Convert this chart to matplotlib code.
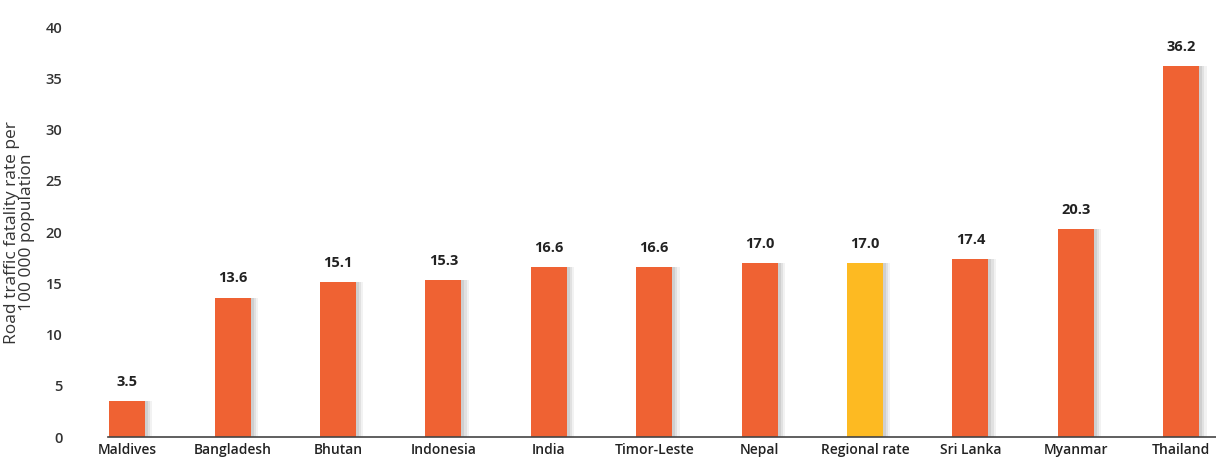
import numpy as np
import matplotlib.pyplot as plt

# ---------------- DATA ----------------
countries = ["Maldives", "Bangladesh", "Bhutan", "Indonesia", "India", "Timor-Leste",
             "Nepal", "Regional rate", "Sri Lanka", "Myanmar", "Thailand"]
rates = [3.5, 13.6, 15.1, 15.3, 16.6, 16.6, 17.0, 17.0, 17.4, 20.3, 36.2]
value_labels = ["3.5", "13.6", "15.1", "15.3", "16.6", "16.6", "17.0", "17.0", "17.4", "20.3", "36.2"]
highlight = "Regional rate"

ORANGE = "#EF6233"
YELLOW = "#FDBA22"

plt.rcParams['font.family'] = ['Open Sans', 'DejaVu Sans']

fig = plt.figure(figsize=(12.16, 4.69), dpi=100)
ax = fig.add_axes([0.089, 0.068, 0.911, 0.874])

x = np.arange(len(countries))
colors = [YELLOW if c == highlight else ORANGE for c in countries]
width = 0.34

# soft shadow on the right side of each bar
for k, a in [(0.07, 0.10), (0.05, 0.14), (0.03, 0.18)]:
    ax.bar(x + k, rates, width=width, color="#808080", alpha=a, zorder=1, linewidth=0)
ax.bar(x, rates, width=width, color=colors, zorder=2, linewidth=0)

for xi, v, lab in zip(x, rates, value_labels):
    ax.text(xi, v + 1.2, lab, ha="center", va="bottom", fontsize=10.5,
            fontweight="bold", color="#222222")

ax.set_xlim(-0.18, 10.33)
ax.set_ylim(0, 40)
ax.set_yticks(np.arange(0, 41, 5))
ax.set_xticks(x)
ax.set_xticklabels(countries, fontsize=10, color="#222222", fontweight="semibold")
ax.tick_params(axis="both", length=0)
ax.tick_params(axis="y", labelsize=10.5, colors="#333333", pad=33)
ax.tick_params(axis="x", pad=4)
for lbl in ax.get_yticklabels():
    lbl.set_fontweight("semibold")
for s in ["top", "right", "left"]:
    ax.spines[s].set_visible(False)
ax.spines["bottom"].set_color("#444444")
ax.spines["bottom"].set_linewidth(1.2)
ax.set_ylabel("Road traffic fatality rate per\n100 000 population", fontsize=12.5,
              color="#333333", labelpad=8, linespacing=0.85)

fig.savefig("out.png", dpi=100)
